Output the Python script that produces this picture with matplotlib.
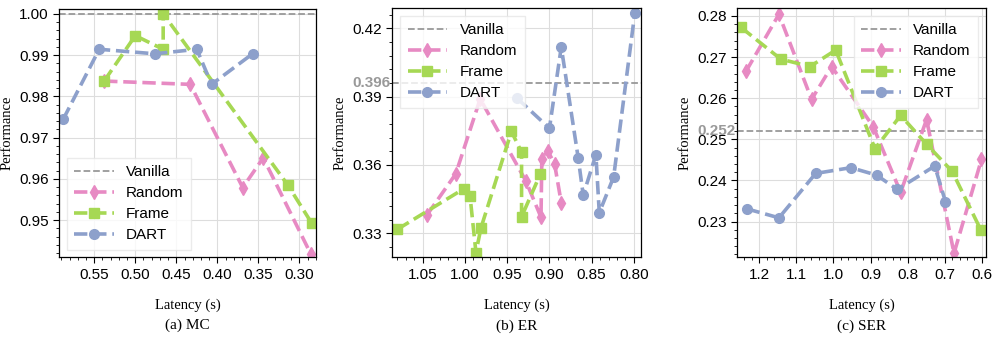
import matplotlib
matplotlib.use("Agg")
import matplotlib.pyplot as plt
from matplotlib.ticker import AutoMinorLocator, MultipleLocator

# ---- data ----
# (a) MC
mc_random_x = [0.538, 0.433, 0.369, 0.344, 0.286]
mc_random_y = [0.9837, 0.9829, 0.9579, 0.9651, 0.9418]
mc_frame_x = [0.538, 0.500, 0.466, 0.466, 0.314, 0.285]
mc_frame_y = [0.9837, 0.9947, 0.9914, 1.000, 0.9585, 0.9493]
mc_dart_x = [0.588, 0.544, 0.476, 0.425, 0.407, 0.357]
mc_dart_y = [0.9744, 0.9914, 0.9903, 0.9914, 0.9829, 0.9903]
mc_vanilla = 1.000

# (b) ER
er_random_x = [1.045, 1.011, 0.982, 0.928, 0.910, 0.909, 0.902, 0.894, 0.886]
er_random_y = [0.338, 0.356, 0.389, 0.353, 0.337, 0.3627, 0.3661, 0.3606, 0.3434]
er_frame_x = [1.080, 1.001, 0.994, 0.987, 0.981, 0.945, 0.933, 0.933, 0.911]
er_frame_y = [0.3317, 0.3496, 0.3463, 0.3215, 0.3324, 0.3747, 0.3656, 0.3372, 0.3558]
er_dart_x = [0.938, 0.900, 0.886, 0.866, 0.860, 0.845, 0.841, 0.824, 0.799]
er_dart_y = [0.3892, 0.3761, 0.4118, 0.3632, 0.3467, 0.3645, 0.339, 0.3547, 0.4266]
er_vanilla = 0.396

# (c) SER
ser_random_x = [1.236, 1.147, 1.059, 1.005, 0.893, 0.819, 0.749, 0.675, 0.601]
ser_random_y = [0.2665, 0.2804, 0.2597, 0.2677, 0.2531, 0.2371, 0.2548, 0.2223, 0.2451]
ser_frame_x = [1.249, 1.142, 1.063, 0.994, 0.888, 0.819, 0.749, 0.680, 0.603]
ser_frame_y = [0.2772, 0.2695, 0.2677, 0.2717, 0.2477, 0.2558, 0.2488, 0.2422, 0.2280]
ser_dart_x = [1.234, 1.147, 1.048, 0.953, 0.884, 0.828, 0.727, 0.698]
ser_dart_y = [0.2331, 0.2309, 0.2417, 0.2431, 0.2413, 0.2378, 0.2435, 0.2348]
ser_vanilla = 0.252

pink = "#e78ac3"
green = "#a6d854"
blue = "#8da0cb"
grey = "#999999"

plt.rcParams["font.family"] = ["Liberation Sans", "DejaVu Sans"]
serif = ["Liberation Serif", "DejaVu Serif"]

fig = plt.figure(figsize=(9.97, 3.39), dpi=100)

panels = [
    dict(rect=[0.0592, 0.241, 0.2578, 0.733],
         r=(mc_random_x, mc_random_y), f=(mc_frame_x, mc_frame_y), d=(mc_dart_x, mc_dart_y),
         van=mc_vanilla, xlim=(0.593, 0.2796), ylim=(0.941, 1.0012), xstep=0.05, ystep=0.01,
         xfmt="%.2f", yfmt="%.2f", loc="lower left", label=False, cap="(a) MC"),
    dict(rect=[0.3935, 0.241, 0.2491, 0.735],
         r=(er_random_x, er_random_y), f=(er_frame_x, er_frame_y), d=(er_dart_x, er_dart_y),
         van=er_vanilla, xlim=(1.086, 0.792), ylim=(0.3194, 0.4289), xstep=0.05, ystep=0.03,
         xfmt="%.2f", yfmt="%.2f", loc="upper left", label=True, cap="(b) ER"),
    dict(rect=[0.7395, 0.241, 0.2494, 0.735],
         r=(ser_random_x, ser_random_y), f=(ser_frame_x, ser_frame_y), d=(ser_dart_x, ser_dart_y),
         van=ser_vanilla, xlim=(1.2593, 0.589), ylim=(0.2213, 0.2819), xstep=0.1, ystep=0.01,
         xfmt="%.1f", yfmt="%.2f", loc="upper right", label=True, cap="(c) SER"),
]

for p in panels:
    ax = fig.add_axes(p["rect"])
    ax.grid(True, color="#dddddd", linewidth=0.8)
    ax.set_axisbelow(True)
    ax.axhline(p["van"], color=grey, linestyle="--", linewidth=1.3, label="Vanilla")
    ax.plot(*p["r"], color=pink, linestyle="--", linewidth=2.6, marker="d",
            markersize=7, label="Random")
    ax.plot(*p["f"], color=green, linestyle="--", linewidth=2.6, marker="s",
            markersize=7, label="Frame")
    ax.plot(*p["d"], color=blue, linestyle="--", linewidth=2.6, marker="o",
            markersize=7, label="DART")
    ax.set_xlim(*p["xlim"])
    ax.set_ylim(*p["ylim"])
    ax.xaxis.set_major_locator(MultipleLocator(p["xstep"]))
    ax.yaxis.set_major_locator(MultipleLocator(p["ystep"]))
    ax.xaxis.set_major_formatter(matplotlib.ticker.FormatStrFormatter(p["xfmt"]))
    ax.yaxis.set_major_formatter(matplotlib.ticker.FormatStrFormatter(p["yfmt"]))
    ax.xaxis.set_minor_locator(AutoMinorLocator(5))
    ax.yaxis.set_minor_locator(AutoMinorLocator(5))
    ax.tick_params(which="major", direction="out", length=4, width=0.8, labelsize=11)
    ax.tick_params(which="minor", direction="out", length=2, width=0.6)
    for s in ax.spines.values():
        s.set_color("black")
        s.set_linewidth(0.9)
    ax.set_xlabel("Latency (s)", family=serif, fontsize=10.5, labelpad=12)
    ax.set_ylabel("Performance", family=serif, fontsize=10.5, labelpad=4)
    if p["label"]:
        ax.text(-0.008, p["van"], "%.3f" % p["van"], transform=ax.get_yaxis_transform(),
                ha="right", va="center", color=grey, fontsize=11, fontweight="bold")
    leg = ax.legend(loc=p["loc"], fontsize=11, frameon=True, fancybox=False,
                    handlelength=2.6, borderpad=0.5, labelspacing=0.45)
    leg.get_frame().set_edgecolor("#e6e6e6")
    leg.get_frame().set_alpha(0.8)
    ax.text(0.5, -0.275, p["cap"], transform=ax.transAxes, ha="center", va="center",
            family=serif, fontsize=11)

fig.savefig("out.png", dpi=100)
